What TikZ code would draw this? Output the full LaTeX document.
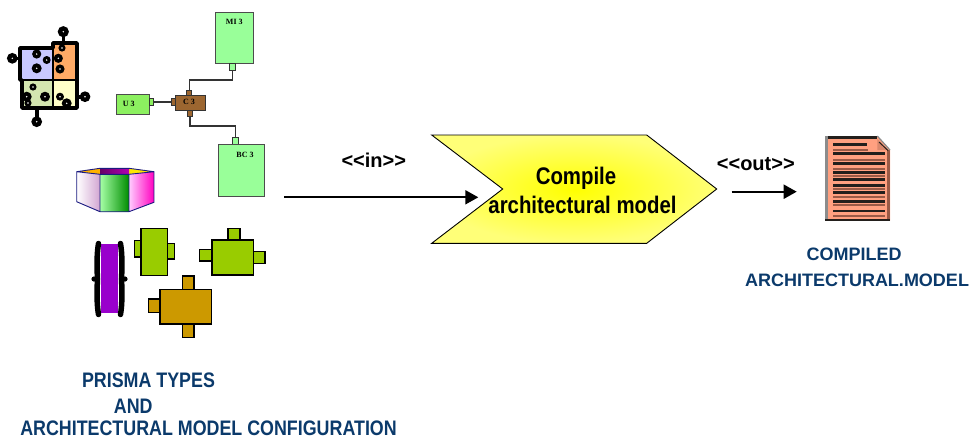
\documentclass[tikz,border=0pt]{standalone}
\usepackage{fontspec}
\setmainfont{Liberation Sans}
\newfontfamily\narrowfont[FakeStretch=0.85]{Liberation Sans}
\newfontfamily\labelserif{Liberation Serif}
\usetikzlibrary{arrows.meta}

\definecolor{navy}{HTML}{0B3A6B}
\definecolor{boxgreen}{HTML}{99FF99}
\definecolor{ugreen}{HTML}{8CF060}
\definecolor{cbrown}{HTML}{9C6630}
\definecolor{limecomp}{HTML}{99CC00}
\definecolor{goldcomp}{HTML}{CC9900}
\definecolor{purplebar}{HTML}{9900CC}
\definecolor{docsalmon}{HTML}{FFA080}
\definecolor{docbrown}{HTML}{9A5A46}
\definecolor{docdark}{HTML}{231F1C}
\definecolor{chevyellow}{HTML}{FFFF00}
\definecolor{chevedge}{HTML}{FFFF78}
\definecolor{plav}{HTML}{C8C8FF}
\definecolor{ppeach}{HTML}{FFAA66}
\definecolor{psage}{HTML}{D4E6B0}
\definecolor{pcream}{HTML}{FFFFC8}
\definecolor{prismline}{HTML}{1A1A80}

\tikzset{
  compbox/.style={draw=black!70, fill=boxgreen, line width=0.9pt, inner sep=0pt},
  portbox/.style={draw=black!80, fill=boxgreen, line width=0.8pt, inner sep=0pt},
  brownbox/.style={draw=black!80, fill=cbrown, line width=0.9pt, inner sep=0pt},
  wire/.style={draw=black!80, line width=1.2pt},
  flow/.style={line width=2pt, -{Triangle[length=13pt,width=14pt]}},
  tinylabel/.style={font=\labelserif\bfseries\fontsize{8}{9}\selectfont, inner sep=0pt},
  flowlabel/.style={font=\bfseries\fontsize{20}{24}\selectfont, anchor=base, inner sep=0pt},
  caption/.style={font=\bfseries\fontsize{18}{22}\selectfont, text=navy, anchor=base, inner sep=0pt},
  widecaption/.style={font=\narrowfont\bfseries\fontsize{21}{25}\selectfont, text=navy, anchor=base, inner sep=0pt},
  chevtext/.style={font=\narrowfont\bfseries\fontsize{24}{29}\selectfont, anchor=base, inner sep=0pt},
  limepart/.style={draw=black, fill=limecomp, line width=1.1pt},
  goldpart/.style={draw=black, fill=goldcomp, line width=1.1pt},
  knob/.style={fill=black}
}

\begin{document}
\begin{tikzpicture}[x=1pt,y=-1pt]
\useasboundingbox (0,0) rectangle (973,439);

% ---------- jigsaw puzzle ----------
\fill[plav]   (20,48) rectangle (53,80);
\fill[ppeach] (53,43) rectangle (77,80);
\fill[psage]  (22,80) rectangle (53,108);
\fill[pcream] (53,80) rectangle (77,108);
\draw[line width=3.6pt, line join=round]
  (20,48) -- (53,48) -- (53,43) -- (77,43) -- (77,108) -- (22,108) -- (22,80) -- (20,80) -- cycle;
\draw[line width=2.4pt] (53,48) -- (53,108) (20,80) -- (77,80);
\draw[line width=3.6pt] (63.3,32) -- (63.3,43) (12.5,58.3) -- (20,58.3)
  (36.7,108) -- (36.7,121.7) (77,96.7) -- (85,96.7) (22,96.7) -- (27,96.7);
\foreach \kx/\ky/\kr in {63.3/31.7/5.6, 12.3/58.3/5.4, 36.7/54/4.6, 36.7/68.3/5, 46.7/60/4,
  58.3/58.3/4.6, 60/69/4.6, 26.7/96.7/5, 45/96.7/5, 36.7/121.7/5.4, 60/96.7/4,
  66.7/103.3/5, 85/96.7/5.4, 33/87/3.6, 28/103/3.6, 62/48/3.6}
  {\fill[knob] (\kx,\ky) circle (\kr pt);
   \fill[white] (\kx,\ky) circle (0.8pt);}

% ---------- connected components ----------
\node[compbox, minimum width=38pt, minimum height=51pt] (mi) at (234,37.5) {};
\node[portbox, minimum width=6.4pt, minimum height=7pt] (mip) at (232.5,66.5) {};
\node[tinylabel] (milab) at (234.3,21.7) {MI 3};

\node[brownbox, minimum width=5pt, minimum height=5.5pt] (ctp) at (189.2,93.5) {};
\node[brownbox, minimum width=4.6pt, minimum height=6pt] (cbp) at (190,113) {};
\node[brownbox, minimum width=3.6pt, minimum height=7pt] (clp) at (173.3,102) {};
\node[brownbox, minimum width=30pt, minimum height=14.3pt] (c) at (190,102.8) {};
\node[tinylabel] (clab) at (189,102.3) {C 3};

\node[compbox, fill=ugreen, minimum width=32.6pt, minimum height=20pt] (u) at (133,104) {};
\node[portbox, fill=ugreen, minimum width=4.4pt, minimum height=7.3pt] (up) at (151.5,102) {};
\node[tinylabel] (ulab) at (128.8,104.3) {U 3};

\node[portbox, minimum width=5.3pt, minimum height=7pt] (bcp) at (235.3,140.8) {};
\node[compbox, minimum width=46pt, minimum height=52.4pt] (bc) at (241.3,170.5) {};
\node[tinylabel] (bclab) at (245,154.5) {BC 3};

\draw[wire] (mip.south) -- (mip.south |- 0,80) -| (ctp.north);
\draw[wire] (up.east) -- (clp.west);
\draw[wire] (cbp.south) -- (cbp.south |- 0,126) -| (bcp.north);

% ---------- hexagonal prism ----------
\fill[orange!60!yellow] (76.7,171.7) -- (100,168.3) -- (100,174.3) -- cycle;
\fill[yellow!90!orange] (154,171.7) -- (129,168.3) -- (129,174.3) -- cycle;
\shade[left color=violet!80!black, right color=magenta!70!black] (100,168.3) rectangle (129,174.3);
\shade[left color=white, right color=violet!35] (76.7,171.7) -- (100,174.3) -- (100,211.7) -- (76.7,201.7) -- cycle;
\shade[left color=green!35, right color=green!55!black] (100,174.3) rectangle (129,211.7);
\shade[left color=magenta!20, right color=magenta!75!red] (129,174.3) -- (154,171.7) -- (154,202.3) -- (129,211.7) -- cycle;
\draw[prismline, line width=0.9pt, line join=round]
  (76.7,171.7) -- (100,168.3) -- (129,168.3) -- (154,171.7) -- (154,202.3) -- (129,211.7)
  -- (100,211.7) -- (76.7,201.7) -- cycle
  (76.7,171.7) -- (100,174.3) -- (129,174.3) -- (154,171.7)
  (100,174.3) -- (100,211.7) (129,174.3) -- (129,211.7);

% ---------- connector symbol ----------
\fill[purplebar] (101,244) rectangle (118.3,313.3);
\draw[line width=5.5pt, line cap=round]
  (98.5,243.5) .. controls (96.5,255) and (97,270) .. (97.5,279)
  .. controls (97,288) and (96.5,303) .. (98.5,314.5);
\draw[line width=5.5pt, line cap=round]
  (120.5,243.5) .. controls (122.5,255) and (122,270) .. (121.5,279)
  .. controls (122,288) and (122.5,303) .. (120.5,314.5);
\fill (94,279) circle (2.6pt) (125,279) circle (2.6pt);

% ---------- component pictograms ----------
\filldraw[limepart] (134.7,240.7) rectangle (141,257);
\filldraw[limepart] (167.3,243.3) rectangle (174.3,259);
\filldraw[limepart] (141,228.7) rectangle (167.3,275.7);

\filldraw[limepart] (228,228.7) rectangle (240,240);
\filldraw[limepart] (199.7,249.3) rectangle (212,261);
\filldraw[limepart] (253.7,251.3) rectangle (265,263.3);
\filldraw[limepart] (212,240) rectangle (253.7,275);

\filldraw[goldpart] (182.3,276) rectangle (194,289.3);
\filldraw[goldpart] (182.3,324) rectangle (194,337.7);
\filldraw[goldpart] (148.3,299) rectangle (160,312.7);
\filldraw[goldpart] (160,289.3) rectangle (211.7,324);

% ---------- compile step ----------
\shade[inner color=chevyellow, outer color=chevedge]
  (431.7,135) -- (646.7,135) -- (716.7,189) -- (646.7,243.3) -- (431.7,243.3) -- (502.7,189) -- cycle;
\draw[line width=0.9pt, line join=miter]
  (431.7,135) -- (646.7,135) -- (716.7,189) -- (646.7,243.3) -- (431.7,243.3) -- (502.7,189) -- cycle;
\node[chevtext] (cmp1) at (576,184) {Compile};
\node[chevtext] (cmp2) at (582.5,213.3) {architectural model};

\coordinate (inA) at (284,197.3);
\coordinate (inB) at (478.3,197.3);
\draw[flow] (inA) -- (inB);
\node[flowlabel] (inlab) at (373.8,167.7) {<{}<in>{}>};

\coordinate (outA) at (731.7,191.7);
\coordinate (outB) at (796.7,191.7);
\draw[flow] (outA) -- (outB);
\node[flowlabel] (outlab) at (755.8,170) {<{}<out>{}>};

% ---------- compiled document ----------
\fill[docsalmon] (828,136) -- (877.3,136) -- (890,150) -- (890,220.7) -- (828,220.7) -- cycle;
\fill[black!45] (825,136) rectangle (828,220.7);
\fill[docbrown] (886.7,150) rectangle (890,220.7);
\fill[docdark] (828,136) rectangle (877.3,138.7);
\fill[docdark] (825,218.5) rectangle (890,220.7);
\fill[docsalmon!85!black] (877.3,139) -- (877.3,150) -- (888,150) -- cycle;
\draw[black!45, line width=1.2pt] (877.3,136) -- (890,150);
\draw[docdark, line width=1pt] (879,142) -- (888,150.5);
\foreach \ly/\lx in {144.5/866.7, 153.3/885, 163.6/885, 172.5/885, 179.5/885, 185.5/885, 192.2/885, 201.3/885, 211/885}
  {\fill[docdark] (832.7,\ly-1.3) rectangle (\lx,\ly+1.3);}
\foreach \ly/\lx in {149.8/868, 160.3/885, 169/885, 176/885, 188.6/885, 197/885, 205/885, 215.5/885}
  {\fill[docbrown] (832.7,\ly-1) rectangle (\lx,\ly+1);}

% ---------- captions ----------
\node[caption] (out1) at (854,260) {COMPILED};
\node[caption] (out2) at (857,286.7) {ARCHITECTURAL.MODEL};

\node[widecaption] (in1) at (148.5,387.5) {PRISMA TYPES};
\node[widecaption] (in2) at (133.3,413.5) {AND};
\node[widecaption] (in3) at (208.5,435.5) {ARCHITECTURAL MODEL CONFIGURATION};
\end{tikzpicture}
\end{document}
